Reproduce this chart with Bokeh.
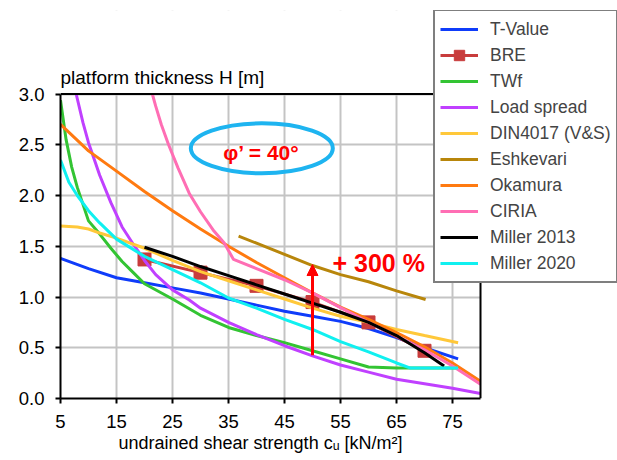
from bokeh.plotting import figure
from bokeh.models import (FixedTicker, Label, Arrow, NormalHead, NumeralTickFormatter, Range1d,
                          BoxAnnotation, Span, Title)
from bokeh.embed import file_html
from bokeh.resources import INLINE

FONT = "Liberation Sans"

# ---- data -------------------------------------------------------------
x_ticks = [5, 15, 25, 35, 45, 55, 65, 75]
y_ticks = [0.0, 0.5, 1.0, 1.5, 2.0, 2.5, 3.0]

tvalue_x = [5, 10, 15, 20, 25, 30, 35, 40, 45, 50, 55, 60, 65, 70, 76]
tvalue_y = [1.38, 1.28, 1.19, 1.14, 1.09, 1.04, 0.98, 0.92, 0.86, 0.81, 0.76, 0.69, 0.60, 0.50, 0.39]

bre_x = [20, 30, 40, 50, 60, 70]
bre_y = [1.37, 1.24, 1.11, 0.95, 0.75, 0.47]

twf_x = [5, 6, 7, 8, 10, 12, 14, 16, 18, 20, 25, 30, 35, 40, 45, 50, 55, 60, 65, 70, 76]
twf_y = [2.94, 2.55, 2.28, 2.08, 1.75, 1.62, 1.48, 1.35, 1.24, 1.13, 0.98, 0.82, 0.70, 0.62, 0.55,
         0.47, 0.39, 0.31, 0.30, 0.30, 0.30]

load_x = [7.8, 9, 10, 11.25, 12, 14, 16, 18, 20, 22, 25, 28, 30, 35, 40, 45, 50, 55, 60, 65, 70, 75, 80]
load_y = [3.0, 2.72, 2.52, 2.32, 2.20, 1.93, 1.69, 1.52, 1.36, 1.22, 1.07, 0.97, 0.89, 0.75, 0.63,
          0.52, 0.42, 0.33, 0.26, 0.19, 0.145, 0.10, 0.05]

din_x = [5, 8, 10, 12, 15, 20, 25, 30, 35, 40, 45, 50, 55, 60, 65, 70, 76]
din_y = [1.70, 1.69, 1.67, 1.63, 1.58, 1.48, 1.36, 1.25, 1.16, 1.07, 0.98, 0.89, 0.81, 0.75, 0.68, 0.62, 0.55]

esh_x = [36.8, 40, 45, 50, 55, 60, 65, 70.2]
esh_y = [1.60, 1.53, 1.42, 1.31, 1.22, 1.15, 1.06, 0.975]

oka_x = [5, 10, 15, 20, 25, 30, 35, 40, 45, 50, 55, 60, 65, 70, 75, 80]
oka_y = [2.70, 2.44, 2.24, 2.04, 1.85, 1.67, 1.50, 1.34, 1.19, 1.04, 0.90, 0.78, 0.65, 0.51, 0.35, 0.17]

ciria_x = [21.4, 22, 23, 24.3, 26, 28, 30, 32.4, 34.2, 35.9, 40, 45, 50, 55, 60, 65, 70, 75, 80]
ciria_y = [3.0, 2.88, 2.70, 2.50, 2.27, 2.02, 1.84, 1.65, 1.535, 1.37, 1.28, 1.17, 1.04, 0.895,
           0.75, 0.616, 0.48, 0.32, 0.14]

m13_x = [20, 25, 30, 35, 40, 45, 50, 55, 60, 65, 70, 73.5]
m13_y = [1.49, 1.40, 1.30, 1.21, 1.12, 1.03, 0.94, 0.85, 0.75, 0.62, 0.45, 0.32]

m20_x = [5, 6.5, 8, 10, 12, 15, 20, 25, 30, 35, 40, 45, 50, 55, 60, 65, 67.5, 76]
m20_y = [2.35, 2.13, 2.0, 1.85, 1.73, 1.57, 1.40, 1.27, 1.14, 0.99, 0.89, 0.78, 0.68, 0.56, 0.46,
         0.35, 0.30, 0.30]

X_MIN, X_MAX = 5, 80
Y_MIN, Y_MAX = 0, 3

arrow_x = 50
arrow_y0 = 0.425
arrow_y1 = 1.32

# ---- figure ------------------------------------------------------------
# The frame is extended to the right and upwards so that the legend and the
# y-axis title (which sit outside the data area) are not clipped.
W, H = 617, 460
BL, BT, BB = 60, 10, 62
frame_w = W - BL
frame_h = H - BT - BB
PX_X = 5.6      # px per x unit
PX_Y = 101.5    # px per y unit
p = figure(width=W, height=H,
           x_range=Range1d(X_MIN, X_MIN + frame_w / PX_X),
           y_range=Range1d(Y_MIN, Y_MIN + frame_h / PX_Y),
           output_backend="svg", toolbar_location=None,
           min_border_left=BL, min_border_right=0, min_border_top=BT, min_border_bottom=BB)
p.background_fill_color = "white"
p.border_fill_color = "white"
p.outline_line_color = None

for ax in (p.xaxis[0], p.yaxis[0]):
    ax.axis_line_color = "black"
    ax.axis_line_width = 2
    ax.major_tick_line_color = "black"
    ax.major_tick_line_width = 2
    ax.major_tick_out = 5
    ax.major_tick_in = 0
    ax.minor_tick_line_color = None
    ax.major_label_text_font = FONT
    ax.major_label_text_font_size = "18.5px"
    ax.major_label_text_color = "black"

xax = p.xaxis[0]
yax = p.yaxis[0]
xax.ticker = FixedTicker(ticks=x_ticks)
yax.ticker = FixedTicker(ticks=y_ticks)
xax.bounds = (X_MIN, X_MAX)
yax.bounds = (Y_MIN, Y_MAX)
yax.formatter = NumeralTickFormatter(format="0.0")
yax.major_label_standoff = 11
xax.major_label_standoff = 11

# x-axis title, left-aligned so that it is centred under the data area
p.add_layout(Title(text="undrained shear strength c\u1d64 [kN/m\u00b2]", align="left", offset=58,
                   text_font=FONT, text_font_size="18px", text_font_style="normal",
                   text_color="black", standoff=0), "below")

p.grid.grid_line_color = "#C4C4C4"
p.grid.grid_line_width = 2

# white masks outside the data area (above the grid, below everything else)
p.add_layout(BoxAnnotation(left=X_MAX, fill_color="white", fill_alpha=1, line_color=None,
                           level="glyph"))
p.add_layout(BoxAnnotation(bottom=Y_MAX, fill_color="white", fill_alpha=1, line_color=None,
                           level="glyph"))

LW = 3
p.line(tvalue_x, tvalue_y, line_color="#0F3CFA", line_width=LW, legend_label="T-Value")
p.line(bre_x, bre_y, line_color="#C83C3C", line_width=LW, legend_label="BRE")
p.scatter(bre_x, bre_y, marker="square", size=13, fill_color="#C83C3C", line_color="#C83C3C",
          legend_label="BRE")
p.line(twf_x, twf_y, line_color="#33C433", line_width=LW, legend_label="TWf")
p.line(load_x, load_y, line_color="#C040FF", line_width=LW, legend_label="Load spread")
p.line(din_x, din_y, line_color="#FFC83A", line_width=LW, legend_label="DIN4017 (V&S)")
p.line(esh_x, esh_y, line_color="#B8860B", line_width=LW, legend_label="Eshkevari")
p.line(oka_x, oka_y, line_color="#FF7A10", line_width=LW, legend_label="Okamura")
p.line(ciria_x, ciria_y, line_color="#FF6EB4", line_width=LW, legend_label="CIRIA")
p.line(m13_x, m13_y, line_color="black", line_width=LW, legend_label="Miller 2013")
p.line(m20_x, m20_y, line_color="#10F0F0", line_width=LW, legend_label="Miller 2020")

# frame borders of the data area (top and right)
p.add_layout(Span(location=Y_MAX, dimension="width", line_color="black", line_width=2))
p.add_layout(Span(location=X_MAX, dimension="height", line_color="black", line_width=2))

# annotations
p.ellipse(x=[40.95], y=[2.465], width=142, height=50, width_units="screen", height_units="screen",
          fill_alpha=0, line_color="#1EB4F0", line_width=4)
p.add_layout(Label(x=40.9, y=2.42, text="φ’ = 40°", text_font=FONT, text_font_style="bold",
                   text_font_size="21px", text_color="red", text_align="center",
                   text_baseline="middle"))
p.add_layout(Arrow(end=NormalHead(size=11, fill_color="red", line_color="red"),
                   x_start=arrow_x, y_start=arrow_y0, x_end=arrow_x, y_end=arrow_y1,
                   line_color="red", line_width=3))
p.add_layout(Label(x=53.57, y=1.335, text="+ 300 %", text_font=FONT, text_font_style="bold",
                   text_font_size="25px", text_color="red", text_align="left",
                   text_baseline="middle"))

# y-axis title (horizontal, above the axis)
p.add_layout(Label(x=X_MIN, y=Y_MAX + 17 / PX_Y, text="platform thickness H [m]",
                   text_font=FONT, text_font_size="19px", text_color="black",
                   text_align="left", text_baseline="alphabetic"))

# legend
lg = p.legend[0]
lg.level = "overlay"
lg.location = (373, 115)
lg.border_line_color = "black"
lg.border_line_width = 2
lg.background_fill_color = "white"
lg.background_fill_alpha = 1
lg.label_text_font = FONT
lg.label_text_font_size = "17.5px"
lg.glyph_width = 38
lg.glyph_height = 26
lg.label_height = 26
lg.label_standoff = 12
lg.spacing = 0
lg.padding = 5
lg.margin = 0

open("out.html", "w").write(file_html(p, INLINE))
